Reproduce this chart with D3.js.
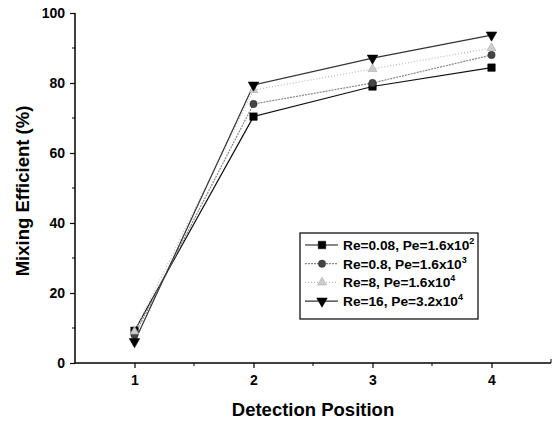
<!DOCTYPE html>
<html>
<head>
<meta charset="utf-8">
<script src="https://cdn.jsdelivr.net/npm/d3@7"></script>
<style>
  body { margin: 0; background: #fff; }
  svg { display: block; }
  text { font-family: "Liberation Sans", Arial, sans-serif; font-weight: 700; fill: #000; }
</style>
</head>
<body>
<svg id="chart" width="555" height="424"></svg>
<script>
const positions = [1, 2, 3, 4];
const seriesNames = ["Re=0.08, Pe=1.6x10", "Re=0.8, Pe=1.6x10", "Re=8, Pe=1.6x10", "Re=16, Pe=3.2x10"];
const seriesExp = ["2", "3", "4", "4"];
const re008 = [9.2, 70.4, 79.0, 84.4];
const re08 = [8.0, 74.0, 80.0, 88.0];
const re8 = [9.0, 78.0, 84.0, 90.0];
const re16 = [6.1, 79.4, 87.1, 93.7];
const yTicks = [0, 20, 40, 60, 80, 100];
const yMinor = [10, 30, 50, 70, 90];
const xMinor = [1.5, 2.5, 3.5];

const svg = d3.select("#chart");
const x = d3.scaleLinear().domain([0.5, 4.5]).range([75, 551]);
const y = d3.scaleLinear().domain([0, 100]).range([363, 13]);

// series styles: marker, fill, line colour, dash
const styles = [
    { sym: d3.symbolSquare, size: 55, fill: "#000", stroke: "#000", line: "#111", dash: null },
    { sym: d3.symbolCircle, size: 42, fill: "#444", stroke: "#333", line: "#888", dash: "2,1" },
    { sym: d3.symbolTriangle, size: 34, fill: "#ccc", stroke: "#aaa", line: "#bbb", dash: "1,2" },
    { sym: d3.symbolTriangle, size: 48, fill: "#000", stroke: "#000", line: "#333", dash: null, down: true }
];
const allSeries = [re008, re08, re8, re16];

// axes
const yAxis = svg.append("g").attr("transform", "translate(75,0)")
    .call(d3.axisLeft(y).tickValues(yTicks).tickSize(5).tickPadding(5));
yAxis.attr("font-family", null).attr("font-size", null);
yAxis.select(".domain").attr("d", `M0,${y(100)}V${y(0)}`).attr("stroke-width", 1.5);
yAxis.selectAll("text").style("font-size", "14px").style("font-weight", "700");
yAxis.selectAll(".tick line").attr("stroke-width", 1.2);
svg.append("g").selectAll("line").data(yMinor).join("line")
    .attr("x1", 72).attr("x2", 75).attr("y1", d => y(d)).attr("y2", d => y(d))
    .attr("stroke", "#000");

const xAxis = svg.append("g").attr("transform", "translate(0,363)")
    .call(d3.axisBottom(x).tickValues(positions).tickFormat(d3.format("d")).tickSize(5).tickPadding(7));
xAxis.attr("font-family", null).attr("font-size", null);
xAxis.select(".domain").attr("d", `M75,0H551`).attr("stroke-width", 1.5);
xAxis.selectAll("text").style("font-size", "14px").style("font-weight", "700");
xAxis.selectAll(".tick line").attr("stroke-width", 1.2);
svg.append("g").selectAll("line").data(xMinor).join("line")
    .attr("x1", d => x(d)).attr("x2", d => x(d)).attr("y1", 363).attr("y2", 366)
    .attr("stroke", "#000");
svg.append("line").attr("x1", x(4.5)).attr("x2", x(4.5)).attr("y1", 363).attr("y2", 359).attr("stroke", "#000");

// axis titles
svg.append("text").attr("x", 313).attr("y", 416).attr("text-anchor", "middle")
    .style("font-size", "18.5px").text("Detection Position");
svg.append("text").attr("transform", "translate(29,191) rotate(-90)").attr("text-anchor", "middle")
    .style("font-size", "18.5px").text("Mixing Efficient (%)");

// lines and markers
const line = d3.line().x((d, i) => x(positions[i])).y(d => y(d));
allSeries.forEach((vals, k) => {
    const s = styles[k];
    svg.append("path").datum(vals).attr("d", line)
        .attr("fill", "none").attr("stroke", s.line).attr("stroke-width", 1.2)
        .attr("stroke-dasharray", s.dash);
});
allSeries.forEach((vals, k) => {
    const s = styles[k];
    svg.append("g").selectAll("path").data(vals).join("path")
        .attr("d", d3.symbol(s.sym, s.size))
        .attr("transform", (d, i) => `translate(${x(positions[i])},${y(d)})${s.down ? " rotate(180)" : ""}`)
        .attr("fill", s.fill).attr("stroke", s.stroke).attr("stroke-width", 0.6);
});

// legend
const lg = svg.append("g").attr("transform", "translate(300,233)");
lg.append("rect").attr("width", 178).attr("height", 86)
    .attr("fill", "#fff").attr("stroke", "#000").attr("stroke-width", 1.2);
seriesNames.forEach((name, k) => {
    const s = styles[k];
    const ry = 12 + k * 18.7;
    lg.append("line").attr("x1", 5).attr("x2", 38).attr("y1", ry).attr("y2", ry)
        .attr("stroke", s.line).attr("stroke-width", 1.2).attr("stroke-dasharray", s.dash);
    lg.append("path").attr("d", d3.symbol(s.sym, s.size))
        .attr("transform", `translate(22,${ry})${s.down ? " rotate(180)" : ""}`)
        .attr("fill", s.fill).attr("stroke", s.stroke).attr("stroke-width", 0.6);
    const t = lg.append("text").attr("x", 43).attr("y", ry + 5).style("font-size", "13.7px").text(name);
    t.append("tspan").attr("dy", -6).style("font-size", "9px").text(seriesExp[k]);
});
</script>
</body>
</html>
